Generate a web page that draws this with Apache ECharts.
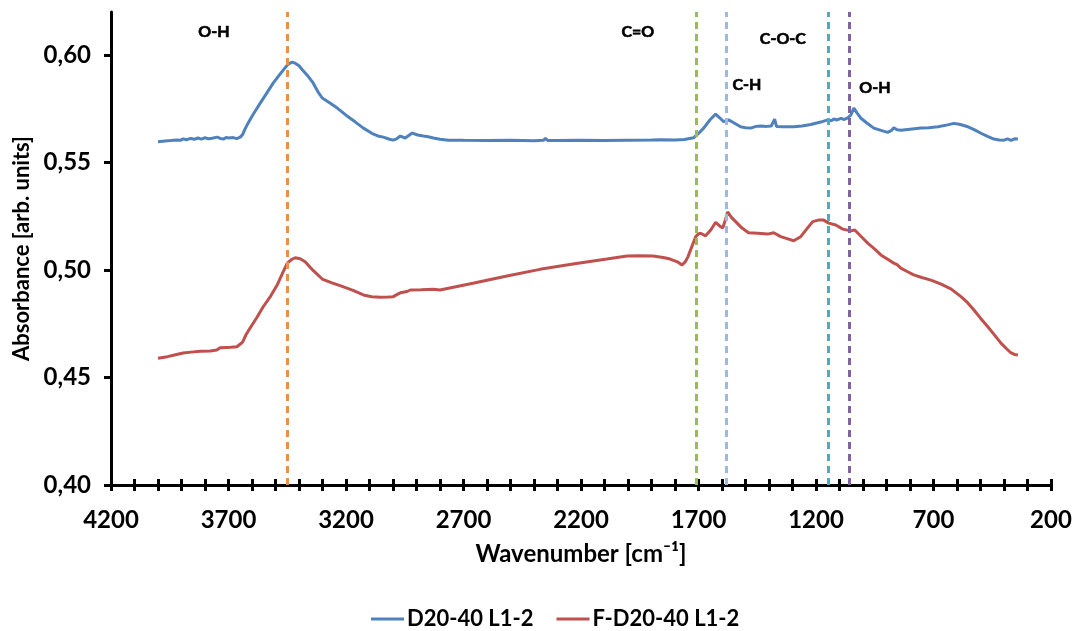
<!DOCTYPE html>
<html>
<head>
<meta charset="utf-8">
<script src="https://cdn.jsdelivr.net/npm/echarts@6/dist/echarts.min.js"></script>
<style>
  html, body { margin: 0; padding: 0; background: #fff; }
  #chart { width: 1076px; height: 631px; }
</style>
</head>
<body>
<div id="chart"></div>
<script>
// FTIR absorbance spectra, wavenumber in cm^-1
const seriesNames = ['D20-40 L1-2', 'F-D20-40 L1-2'];

const d2040Wn = [4000, 3970, 3945, 3920, 3905, 3893, 3880, 3860, 3845, 3830, 3815, 3800, 3785, 3770, 3748, 3735, 3720, 3710, 3700, 3693, 3680, 3665, 3650, 3640, 3630, 3621, 3600, 3580, 3565, 3540, 3510, 3480, 3450, 3430, 3416, 3400, 3385, 3365, 3340, 3320, 3301, 3270, 3237, 3200, 3160, 3126, 3090, 3060, 3041, 3015, 2999, 2985, 2969, 2948, 2930, 2918, 2895, 2871, 2850, 2828, 2800, 2764, 2700, 2600, 2500, 2400, 2360, 2351, 2342, 2300, 2200, 2100, 2000, 1900, 1861, 1800, 1760, 1721, 1700, 1678, 1650, 1627, 1610, 1593, 1572, 1550, 1521, 1500, 1478, 1455, 1435, 1410, 1390, 1376, 1368, 1340, 1295, 1260, 1222, 1180, 1150, 1135, 1124, 1110, 1094, 1080, 1065, 1052, 1039, 1025, 1010, 985, 954, 920, 895, 880, 869, 855, 839, 800, 754, 720, 681, 640, 613, 590, 553, 525, 498, 470, 443, 420, 400, 385, 370, 355, 341];
const d2040Abs = [0.5597, 0.5600, 0.5602, 0.5605, 0.5603, 0.5610, 0.5606, 0.5612, 0.5608, 0.5614, 0.5609, 0.5615, 0.5610, 0.5613, 0.5618, 0.5612, 0.5609, 0.5617, 0.5614, 0.5608, 0.5616, 0.5611, 0.5618, 0.5630, 0.5655, 0.5674, 0.5715, 0.5750, 0.5776, 0.5818, 0.5869, 0.5912, 0.5953, 0.5967, 0.5962, 0.5950, 0.5930, 0.5906, 0.5870, 0.5830, 0.5800, 0.5778, 0.5753, 0.5720, 0.5688, 0.5660, 0.5636, 0.5622, 0.5618, 0.5608, 0.5604, 0.5610, 0.5623, 0.5614, 0.5628, 0.5637, 0.5628, 0.5623, 0.5620, 0.5614, 0.5608, 0.5604, 0.5603, 0.5602, 0.5603, 0.5601, 0.5603, 0.5612, 0.5602, 0.5602, 0.5603, 0.5602, 0.5604, 0.5605, 0.5606, 0.5605, 0.5607, 0.5615, 0.5635, 0.5660, 0.5700, 0.5725, 0.5708, 0.5690, 0.5698, 0.5685, 0.5666, 0.5662, 0.5660, 0.5668, 0.5670, 0.5668, 0.5670, 0.5702, 0.5668, 0.5666, 0.5666, 0.5670, 0.5677, 0.5688, 0.5698, 0.5694, 0.5702, 0.5698, 0.5705, 0.5700, 0.5708, 0.5720, 0.5753, 0.5730, 0.5707, 0.5685, 0.5660, 0.5648, 0.5640, 0.5648, 0.5662, 0.5652, 0.5650, 0.5655, 0.5660, 0.5662, 0.5666, 0.5675, 0.5682, 0.5678, 0.5666, 0.5652, 0.5636, 0.5622, 0.5609, 0.5605, 0.5604, 0.5610, 0.5603, 0.5610, 0.5609];

const fd2040Wn = [4000, 3960, 3930, 3893, 3860, 3820, 3778, 3750, 3736, 3710, 3690, 3664, 3640, 3625, 3608, 3580, 3553, 3520, 3493, 3470, 3450, 3430, 3416, 3395, 3374, 3340, 3301, 3260, 3225, 3170, 3126, 3090, 3054, 3020, 2999, 2980, 2969, 2940, 2926, 2880, 2828, 2800, 2660, 2515, 2375, 2234, 2090, 2004, 1950, 1894, 1850, 1821, 1790, 1770, 1755, 1745, 1728, 1712, 1700, 1691, 1670, 1648, 1627, 1610, 1597, 1585, 1576, 1560, 1542, 1515, 1487, 1448, 1406, 1380, 1350, 1320, 1295, 1265, 1240, 1214, 1190, 1167, 1146, 1116, 1086, 1052, 1035, 1010, 980, 950, 924, 895, 869, 855, 839, 810, 784, 750, 711, 670, 626, 583, 555, 528, 500, 469, 440, 413, 390, 370, 355, 341];
const fd2040Abs = [0.4590, 0.4597, 0.4605, 0.4614, 0.4618, 0.4622, 0.4623, 0.4628, 0.4638, 0.4640, 0.4641, 0.4643, 0.4665, 0.4700, 0.4730, 0.4778, 0.4828, 0.4880, 0.4930, 0.4985, 0.5032, 0.5050, 0.5057, 0.5052, 0.5038, 0.4998, 0.4958, 0.4940, 0.4927, 0.4905, 0.4884, 0.4876, 0.4873, 0.4874, 0.4876, 0.4888, 0.4894, 0.4900, 0.4907, 0.4908, 0.4910, 0.4907, 0.4938, 0.4972, 0.5003, 0.5028, 0.5051, 0.5065, 0.5066, 0.5065, 0.5058, 0.5051, 0.5038, 0.5023, 0.5040, 0.5061, 0.5110, 0.5155, 0.5168, 0.5171, 0.5159, 0.5186, 0.5222, 0.5205, 0.5195, 0.5235, 0.5270, 0.5245, 0.5225, 0.5195, 0.5173, 0.5171, 0.5167, 0.5173, 0.5155, 0.5145, 0.5136, 0.5155, 0.5190, 0.5225, 0.5232, 0.5232, 0.5218, 0.5209, 0.5190, 0.5182, 0.5186, 0.5158, 0.5125, 0.5097, 0.5070, 0.5050, 0.5032, 0.5025, 0.5009, 0.4992, 0.4977, 0.4965, 0.4953, 0.4935, 0.4912, 0.4876, 0.4848, 0.4814, 0.4776, 0.4736, 0.4697, 0.4660, 0.4635, 0.4614, 0.4607, 0.4605];

// Band positions (cm^-1) marked with dashed guides
const bandWn = [3450, 1710, 1580, 1150, 1060];
const bandColors = ['#E8914A', '#9BBB59', '#9DB9DE', '#4BACC6', '#8064A2'];

// Band assignment labels: text, wavenumber, absorbance-level anchor
const bandLabelText = ['O-H', 'C=O', 'C-O-C', 'C-H', 'O-H'];
const bandLabelWn = [3762, 1958, 1341, 1494, 949];
const bandLabelAbs = [0.6107, 0.6107, 0.6074, 0.5860, 0.5846];

const yTickValues = [0.40, 0.45, 0.50, 0.55, 0.60];

const FONT = 'Lato';
const pairs = (xs, ys) => xs.map((x, i) => [x, ys[i]]);

const chart = echarts.init(document.getElementById('chart'), null, { renderer: 'canvas' });

const xCommon = {
  type: 'value',
  min: 200,
  max: 4200,
  inverse: true,
  splitLine: { show: false },
  gridIndex: 0,
  position: 'bottom'
};

chart.setOption({
  animation: false,
  backgroundColor: '#ffffff',
  grid: { left: 111, right: 25, top: 12, bottom: 146, containLabel: false },
  legend: {
    data: seriesNames,
    top: 603,
    left: 366,
    icon: 'rect',
    itemWidth: 33,
    itemHeight: 3,
    itemGap: 23,
    textStyle: { fontFamily: FONT, fontWeight: 'bold', fontSize: 22, color: '#000', padding: [0, 0, 0, -2] }
  },
  xAxis: [
    Object.assign({}, xCommon, {
      interval: 500,
      name: 'Wavenumber [cm\u207B\u00B9]',
      nameLocation: 'middle',
      nameGap: 57,
      nameTextStyle: { fontFamily: FONT, fontWeight: 'bold', fontSize: 24, color: '#000' },
      axisLine: { show: true, lineStyle: { color: '#000', width: 3 } },
      axisTick: { show: true, inside: false, length: 6, lineStyle: { color: '#000', width: 3 } },
      minorTick: { show: true, splitNumber: 5, length: 6, lineStyle: { color: '#000', width: 3 } },
      axisLabel: {
        fontFamily: FONT, fontWeight: 'bold', fontSize: 24, color: '#000', margin: 23,
        formatter: v => String(v)
      }
    }),
    Object.assign({}, xCommon, {
      interval: 100,
      axisLine: { show: false },
      axisTick: { show: true, inside: true, length: 6, lineStyle: { color: '#000', width: 3 } },
      axisLabel: { show: false }
    })
  ],
  yAxis: {
    type: 'value',
    min: 0.40,
    max: 0.62,
    interval: 0.05,
    name: 'Absorbance [arb. units]',
    nameLocation: 'middle',
    nameGap: 78,
    nameTextStyle: { fontFamily: FONT, fontWeight: 'bold', fontSize: 22, color: '#000' },
    splitLine: { show: false },
    axisLine: { show: true, lineStyle: { color: '#000', width: 3 } },
    axisTick: { show: true, length: 7, customValues: yTickValues, lineStyle: { color: '#000', width: 3 } },
    axisLabel: {
      customValues: yTickValues,
      fontFamily: FONT, fontWeight: 'bold', fontSize: 24, color: '#000', margin: 20,
      formatter: v => v.toFixed(2).replace('.', ',')
    }
  },
  series: [
    {
      name: seriesNames[0],
      type: 'line',
      data: pairs(d2040Wn, d2040Abs),
      showSymbol: false,
      symbol: 'none',
      lineStyle: { color: '#4F81BD', width: 3 },
      itemStyle: { color: '#4F81BD' },
      z: 2
    },
    {
      name: seriesNames[1],
      type: 'line',
      data: pairs(fd2040Wn, fd2040Abs),
      showSymbol: false,
      symbol: 'none',
      lineStyle: { color: '#C0504D', width: 3 },
      itemStyle: { color: '#C0504D' },
      z: 2
    },
    {
      name: 'bands',
      type: 'line',
      data: [],
      z: 5,
      markLine: {
        silent: true,
        symbol: ['none', 'none'],
        label: { show: false },
        data: bandWn.map((wn, i) => ({
          xAxis: wn,
          lineStyle: { color: bandColors[i], type: [7, 5], width: 3 }
        }))
      }
    },
    {
      name: 'band labels',
      type: 'scatter',
      symbolSize: 1,
      itemStyle: { color: 'rgba(255,255,255,0)', opacity: 1 },
      silent: true,
      z: 6,
      data: bandLabelText.map((t, i) => ({ name: t, value: [bandLabelWn[i], bandLabelAbs[i]] })),
      label: {
        show: true,
        position: 'inside',
        formatter: '{b}',
        textBorderWidth: 0.6,
        textBorderColor: '#000',
        fontFamily: FONT, fontWeight: 'bold', fontSize: 16, color: '#000'
      }
    }
  ]
});
</script>
</body>
</html>
